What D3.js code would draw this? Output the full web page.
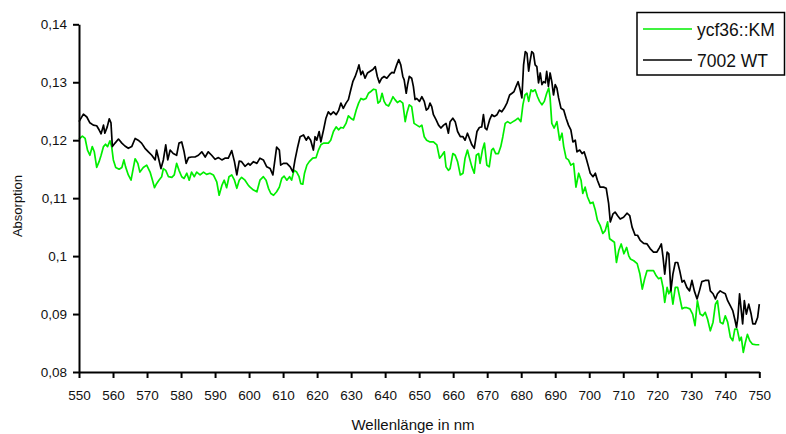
<!DOCTYPE html>
<html>
<head>
<meta charset="utf-8">
<script src="https://cdn.jsdelivr.net/npm/d3@7"></script>
<style>
  html, body { margin: 0; padding: 0; background: #fff; }
  svg { display: block; font-family: "Liberation Sans", Arial, sans-serif; }
</style>
</head>
<body>
<svg id="chart" width="786" height="434"></svg>
<script>
// Absorption spectra, 550–750 nm
const seriesNames = ["ycf36::KM", "7002 WT"];
const seriesColors = ["#00ee00", "#000000"];

const xTicks = [550, 560, 570, 580, 590, 600, 610, 620, 630, 640, 650, 660, 670, 680, 690, 700, 710, 720, 730, 740, 750];
const yTicks = [0.08, 0.09, 0.10, 0.11, 0.12, 0.13, 0.14];
const yTickLabels = ["0,08", "0,09", "0,1", "0,11", "0,12", "0,13", "0,14"];

// ycf36::KM
const kmNm = [550,551.0,551.8,552.5,553.2,553.9,554.5,555.2,555.9,556.5,557.2,557.8,558.4,559.1,559.6,560.1,560.8,561.8,562.6,563.2,563.7,564.5,565.3,566.0,566.5,567.3,567.9,568.9,569.9,570.9,571.6,572.2,572.8,573.5,574.3,574.8,575.5,576.3,577.3,578.0,578.7,579.4,580.2,580.9,581.7,582.4,583.1,583.9,584.6,585.6,586.6,587.5,588.5,589.5,590.5,591.2,592.0,592.7,593.4,594.1,594.9,595.7,596.4,597.1,597.8,598.8,599.8,600.3,601.3,602.3,603.2,604.2,605.0,605.7,606.4,607.2,608.1,608.9,609.6,610.3,611.1,611.9,612.5,613.2,614.0,614.7,615.2,615.8,616.3,617.0,617.7,618.7,619.7,620.4,621.1,621.9,622.6,623.3,624.0,624.8,625.6,626.3,627.0,627.7,628.5,629.2,629.9,630.7,631.5,632.2,632.9,633.6,634.4,635.1,635.8,636.6,637.3,637.9,638.5,639.1,639.7,640.3,641.0,641.7,642.3,642.9,643.6,644.4,645.2,645.9,646.4,647.1,647.8,648.5,649.3,650.1,650.8,651.5,652.2,653.2,654.2,655.2,656.0,656.7,657.4,657.9,658.6,659.1,659.9,660.6,661.3,662.1,662.9,663.5,664.2,664.8,665.5,666.2,666.8,667.5,667.9,668.6,669.2,669.9,670.6,671.3,671.8,672.5,673.3,674.0,674.6,675.3,676.0,676.8,677.6,678.4,679.1,679.9,680.5,681.1,681.7,682.2,682.9,683.4,684.1,684.8,685.4,686.1,686.8,687.5,688.1,688.5,689.0,689.7,690.5,691.3,692.0,692.5,693.2,693.9,694.6,695.4,696.1,696.9,697.6,698.1,698.8,699.5,700.3,701.1,701.8,702.4,703.2,704.0,704.7,705.4,706.0,706.7,707.4,708.0,708.7,709.4,710.2,711.0,711.6,712.1,713.1,714.1,714.9,715.6,716.3,717.0,717.9,718.9,719.7,720.4,721.1,721.7,722.2,722.9,723.4,724.0,724.6,725.3,726.0,726.6,727.3,727.9,728.7,729.6,730.4,731.1,731.8,732.6,733.4,734.1,734.8,735.6,736.4,737.1,737.7,738.5,739.3,740.0,740.7,741.5,742.2,742.8,743.5,744.2,744.7,745.3,745.9,746.5,747.2,748.0,749.0,750.0];
const kmAbs = [0.1202,0.1207,0.1203,0.1183,0.1174,0.1189,0.1180,0.1153,0.1163,0.1174,0.1189,0.1193,0.1189,0.1199,0.1189,0.1166,0.1153,0.1150,0.1153,0.1166,0.1154,0.1140,0.1131,0.1153,0.1168,0.1160,0.1145,0.1153,0.1157,0.1145,0.1131,0.1118,0.1125,0.1131,0.1137,0.1151,0.1148,0.1137,0.1136,0.1140,0.1160,0.1148,0.1137,0.1134,0.1143,0.1131,0.1145,0.1137,0.1145,0.1140,0.1145,0.1141,0.1143,0.1140,0.1128,0.1105,0.1122,0.1131,0.1118,0.1137,0.1140,0.1131,0.1117,0.1131,0.1136,0.1131,0.1122,0.1119,0.1114,0.1111,0.1131,0.1137,0.1131,0.1117,0.1108,0.1105,0.1111,0.1119,0.1134,0.1138,0.1131,0.1137,0.1131,0.1148,0.1145,0.1137,0.1125,0.1124,0.1143,0.1157,0.1163,0.1169,0.1170,0.1183,0.1192,0.1195,0.1195,0.1195,0.1200,0.1215,0.1223,0.1218,0.1222,0.1221,0.1229,0.1242,0.1238,0.1235,0.1252,0.1264,0.1272,0.1270,0.1272,0.1281,0.1284,0.1288,0.1287,0.1264,0.1267,0.1281,0.1267,0.1261,0.1259,0.1267,0.1275,0.1270,0.1265,0.1268,0.1264,0.1232,0.1247,0.1261,0.1258,0.1229,0.1226,0.1223,0.1226,0.1206,0.1200,0.1197,0.1197,0.1192,0.1169,0.1174,0.1180,0.1154,0.1148,0.1151,0.1177,0.1174,0.1163,0.1140,0.1143,0.1169,0.1183,0.1169,0.1154,0.1143,0.1174,0.1177,0.1160,0.1183,0.1195,0.1157,0.1154,0.1183,0.1186,0.1177,0.1177,0.1189,0.1206,0.1229,0.1232,0.1229,0.1232,0.1235,0.1238,0.1232,0.1261,0.1278,0.1281,0.1267,0.1287,0.1284,0.1287,0.1275,0.1267,0.1261,0.1267,0.1281,0.1290,0.1273,0.1229,0.1221,0.1232,0.1200,0.1212,0.1189,0.1169,0.1166,0.1157,0.1160,0.1119,0.1143,0.1131,0.1108,0.1119,0.1102,0.1091,0.1093,0.1079,0.1062,0.1053,0.1039,0.1044,0.1059,0.1030,0.1027,0.1024,0.0989,0.1010,0.1021,0.1004,0.1015,0.1001,0.0995,0.0992,0.0987,0.0969,0.0943,0.0961,0.0975,0.0975,0.0975,0.0966,0.0961,0.0963,0.0946,0.0920,0.0946,0.0935,0.0943,0.0917,0.0946,0.0946,0.0929,0.0909,0.0911,0.0911,0.0909,0.0900,0.0880,0.0923,0.0900,0.0897,0.0903,0.0891,0.0871,0.0886,0.0917,0.0923,0.0886,0.0883,0.0897,0.0886,0.0860,0.0854,0.0874,0.0874,0.0854,0.0860,0.0834,0.0851,0.0865,0.0854,0.0848,0.0847,0.0847];

// 7002 WT
const wtNm = [550,551.3,552.3,553.2,554.2,555.2,555.9,556.5,557.2,557.6,558.3,558.9,559.4,559.8,560.6,561.6,562.6,563.5,564.5,565.5,566.5,567.4,568.4,569.4,570.4,571.4,572.4,572.8,573.3,574.1,574.8,575.5,576.1,576.8,577.7,578.7,579.4,580.2,580.9,581.5,582.2,583.1,584.1,585.1,586.1,587.1,588.0,589.0,590.0,591.0,592.0,592.9,593.9,594.9,595.7,596.4,597.1,597.8,598.8,599.8,600.3,601.3,602.3,603.2,604.2,605.2,606.2,607.0,607.6,608.1,608.9,609.3,610.1,611.1,612.1,612.9,613.5,614.2,615.0,616.0,616.8,617.4,618.1,618.9,619.4,619.9,620.6,621.1,621.9,622.6,623.3,624.0,624.8,625.6,626.3,627.0,627.7,628.5,629.2,629.9,630.5,631.2,631.9,632.3,632.9,633.4,634.1,634.8,635.6,636.4,637.1,637.7,638.3,639.0,639.7,640.5,641.3,642.0,642.6,643.4,644.0,644.6,645.2,645.6,646.2,646.6,647.1,647.8,648.3,648.8,649.3,650.1,650.8,651.5,652.1,652.7,653.2,653.7,654.2,655.0,655.7,656.4,657.2,657.9,658.6,659.1,659.9,660.6,661.3,662.1,662.9,663.5,664.2,664.8,665.5,666.2,667.0,667.7,668.4,668.9,669.4,669.9,670.7,671.4,672.1,672.9,673.6,674.3,675.0,675.8,676.6,677.3,677.9,678.5,679.1,679.7,680.2,680.7,681.2,681.7,682.2,682.6,683.1,683.6,684.1,684.6,685.1,685.6,686.1,686.6,687.1,687.5,688.0,688.5,689.0,689.5,690.0,690.5,691.0,691.7,692.5,693.2,693.9,694.6,695.2,695.9,696.4,697.2,697.9,698.5,699.1,699.8,700.3,701.1,701.8,702.4,703.2,704.2,705.0,705.7,706.2,707.0,707.6,708.3,709.1,710.1,711.1,711.9,712.6,713.5,714.2,715.0,716.0,717.0,717.9,718.9,719.9,720.7,721.2,721.7,722.2,722.9,723.4,724.0,724.6,725.3,726.0,726.6,727.3,727.9,728.7,729.5,730.2,730.9,731.7,732.4,733.1,734.1,735.1,735.6,736.4,737.1,737.7,738.5,739.3,740.0,740.7,741.5,742.2,742.8,743.3,743.7,744.2,744.7,745.1,745.6,746.2,746.9,747.6,748.1,748.8,749.5,750.0];
const wtAbs = [0.1232,0.1245,0.1240,0.1230,0.1226,0.1225,0.1218,0.1211,0.1226,0.1212,0.1223,0.1237,0.1230,0.1189,0.1195,0.1202,0.1195,0.1190,0.1186,0.1189,0.1203,0.1200,0.1195,0.1186,0.1180,0.1174,0.1166,0.1183,0.1171,0.1151,0.1166,0.1192,0.1166,0.1183,0.1177,0.1174,0.1195,0.1197,0.1180,0.1160,0.1170,0.1171,0.1171,0.1174,0.1180,0.1171,0.1180,0.1174,0.1167,0.1170,0.1166,0.1169,0.1169,0.1182,0.1163,0.1140,0.1164,0.1163,0.1155,0.1160,0.1157,0.1163,0.1160,0.1169,0.1166,0.1154,0.1151,0.1140,0.1166,0.1188,0.1183,0.1157,0.1160,0.1160,0.1154,0.1145,0.1166,0.1186,0.1206,0.1209,0.1200,0.1206,0.1200,0.1183,0.1206,0.1200,0.1215,0.1197,0.1218,0.1238,0.1249,0.1244,0.1249,0.1244,0.1251,0.1264,0.1255,0.1264,0.1270,0.1287,0.1301,0.1310,0.1322,0.1330,0.1313,0.1319,0.1307,0.1316,0.1319,0.1322,0.1327,0.1310,0.1299,0.1307,0.1310,0.1307,0.1313,0.1317,0.1316,0.1330,0.1339,0.1330,0.1310,0.1304,0.1281,0.1296,0.1310,0.1307,0.1293,0.1270,0.1272,0.1267,0.1275,0.1267,0.1252,0.1255,0.1264,0.1258,0.1244,0.1235,0.1226,0.1221,0.1226,0.1229,0.1212,0.1232,0.1238,0.1232,0.1215,0.1206,0.1206,0.1200,0.1212,0.1203,0.1192,0.1186,0.1215,0.1222,0.1223,0.1244,0.1221,0.1218,0.1235,0.1244,0.1241,0.1244,0.1252,0.1249,0.1255,0.1264,0.1278,0.1281,0.1284,0.1293,0.1301,0.1287,0.1273,0.1330,0.1353,0.1350,0.1319,0.1336,0.1353,0.1350,0.1330,0.1327,0.1299,0.1316,0.1296,0.1301,0.1299,0.1319,0.1293,0.1316,0.1301,0.1278,0.1296,0.1290,0.1273,0.1255,0.1252,0.1238,0.1226,0.1218,0.1197,0.1200,0.1180,0.1183,0.1177,0.1180,0.1169,0.1154,0.1143,0.1137,0.1143,0.1131,0.1119,0.1119,0.1117,0.1091,0.1059,0.1073,0.1076,0.1070,0.1064,0.1067,0.1074,0.1070,0.1050,0.1036,0.1036,0.1027,0.1022,0.1021,0.1013,0.1007,0.1007,0.1015,0.1021,0.0998,0.0969,0.1007,0.1004,0.0940,0.0969,0.0989,0.0989,0.0975,0.0955,0.0958,0.0946,0.0940,0.0958,0.0940,0.0926,0.0940,0.0956,0.0958,0.0958,0.0940,0.0935,0.0926,0.0935,0.0940,0.0937,0.0935,0.0923,0.0914,0.0906,0.0891,0.0877,0.0894,0.0935,0.0906,0.0883,0.0923,0.0900,0.0917,0.0900,0.0883,0.0883,0.0894,0.0917];

const svg = d3.select("#chart");

const x = d3.scaleLinear().domain([550, 750]).range([79, 759.3]);
const y = d3.scaleLinear().domain([0.08, 0.14]).range([372, 24.3]);

const line = d3.line()
  .x(d => x(d[0]))
  .y(d => y(d[1]));

const series = [
  { name: seriesNames[0], color: seriesColors[0], pts: d3.zip(kmNm, kmAbs) },
  { name: seriesNames[1], color: seriesColors[1], pts: d3.zip(wtNm, wtAbs) }
];

// curves
svg.append("g").selectAll("path")
  .data(series)
  .join("path")
  .attr("fill", "none")
  .attr("stroke", d => d.color)
  .attr("stroke-width", 1.7)
  .attr("stroke-linejoin", "round")
  .attr("d", d => line(d.pts));

// x axis
const xAxis = svg.append("g")
  .attr("transform", `translate(0,${y(0.08)})`)
  .call(d3.axisBottom(x).tickValues(xTicks).tickFormat(d3.format("d"))
    .tickSize(6).tickSizeOuter(0).tickPadding(12));
// y axis
const yAxis = svg.append("g")
  .attr("transform", `translate(${x(550)},0)`)
  .call(d3.axisLeft(y).tickValues(yTicks).tickFormat((d, i) => yTickLabels[i])
    .tickSize(6).tickSizeOuter(0).tickPadding(6));

[xAxis, yAxis].forEach(g => {
  g.select(".domain").attr("stroke", "#000").attr("stroke-width", 2);
  g.selectAll(".tick line").attr("stroke", "#000").attr("stroke-width", 2);
  g.selectAll(".tick text")
    .attr("fill", "#111")
    .style("font-family", "'Liberation Sans', Arial, sans-serif")
    .style("font-size", "13.5px");
});

// axis titles
svg.append("text")
  .attr("x", 413).attr("y", 430)
  .attr("text-anchor", "middle")
  .attr("fill", "#111")
  .style("font-size", "15px")
  .text("Wellenlänge in nm");

svg.append("text")
  .attr("transform", "translate(22,206) rotate(-90)")
  .attr("text-anchor", "middle")
  .attr("fill", "#111")
  .style("font-size", "13px")
  .text("Absorption");

// legend
const legend = svg.append("g");
legend.append("rect")
  .attr("x", 637).attr("y", 12.5)
  .attr("width", 147.5).attr("height", 62.5)
  .attr("fill", "#fff")
  .attr("stroke", "#000")
  .attr("stroke-width", 1.5);

const rows = legend.selectAll("g.row")
  .data(series)
  .join("g")
  .attr("class", "row")
  .attr("transform", (d, i) => `translate(0,${29 + i * 31})`);
rows.append("line")
  .attr("x1", 643).attr("x2", 692)
  .attr("y1", 0).attr("y2", 0)
  .attr("stroke", d => d.color)
  .attr("stroke-width", 1.7);
rows.append("text")
  .attr("x", 697).attr("y", 6.5)
  .attr("fill", "#111")
  .style("font-size", "17.5px")
  .text(d => d.name);
</script>
</body>
</html>
